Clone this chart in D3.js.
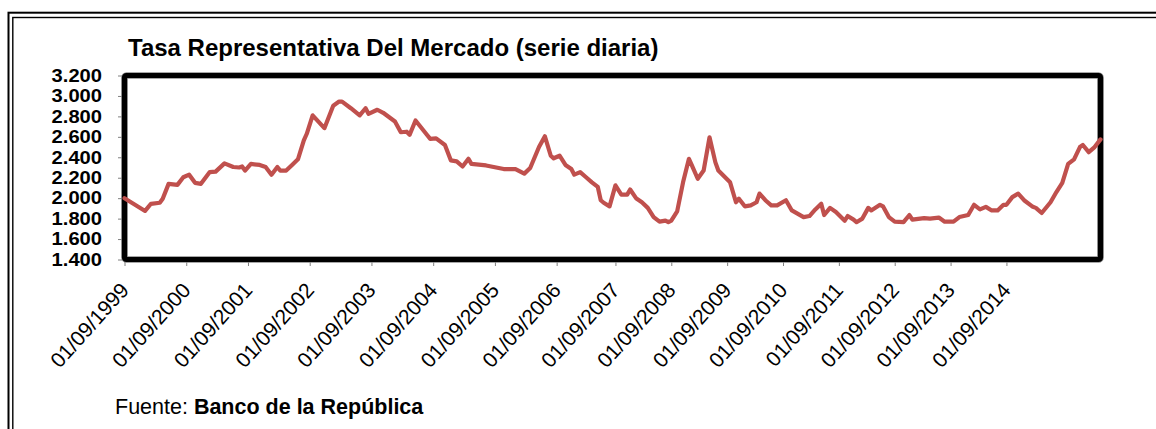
<!DOCTYPE html>
<html>
<head>
<meta charset="utf-8">
<script src="https://cdn.jsdelivr.net/npm/d3@7"></script>
<style>
  html, body { margin: 0; padding: 0; background: #fff; }
  svg { display: block; font-family: Arial, "Liberation Sans", sans-serif; }
</style>
</head>
<body>
<svg id="chart" width="1156" height="429"></svg>
<script>
// ---- Data ----
const chartTitle = "Tasa Representativa Del Mercado (serie diaria)";
const sourcePrefix = "Fuente: ";
const sourceName = "Banco de la República";

// observation index along the category axis (each label = one observation)
const obsIndex = [0,7,9,12,13,15,18,20,22,24,26,29,31,34,37,39,40,41,43,46,48,50,52,53,55,57,59,61,62,64,68,71,73,74,77,80,82,83,86,88,92,94,96,97,99,103,104,106,109,111,113,115,117,118,123,129,133,136,138,141,143,145,146,148,150,152,153,155,157,159,161,162,163,165,167,169,171,172,174,176,178,180,182,184,185,186,188,190,192,193,195,197,199,201,202,206,208,209,211,213,215,216,218,220,222,225,227,231,233,235,237,238,240,242,245,246,248,249,251,253,254,257,258,260,262,265,267,268,272,274,277,279,282,284,287,289,291,293,295,297,299,300,302,304,306,309,310,312,315,317,319,321,323,325,326,328,330,332];
// TRM in pesos per dollar
const trmValues = [2000,1875,1945,1955,1995,2140,2130,2205,2230,2150,2140,2255,2260,2340,2305,2300,2310,2270,2335,2325,2305,2230,2305,2270,2270,2325,2380,2565,2630,2810,2685,2905,2945,2945,2880,2810,2880,2825,2865,2835,2750,2645,2650,2620,2760,2615,2580,2585,2520,2370,2360,2310,2385,2335,2320,2285,2285,2240,2295,2500,2605,2415,2390,2415,2325,2285,2230,2255,2205,2155,2110,1980,1955,1920,2125,2035,2035,2085,2000,1960,1905,1815,1770,1780,1765,1780,1870,2155,2385,2320,2190,2270,2595,2350,2270,2155,1960,1995,1920,1930,1960,2045,1980,1930,1930,1980,1880,1815,1825,1890,1945,1835,1905,1865,1780,1825,1790,1765,1800,1905,1880,1935,1920,1815,1770,1765,1835,1790,1805,1800,1810,1770,1770,1815,1835,1935,1890,1915,1880,1880,1935,1935,2010,2045,1980,1915,1905,1855,1960,2060,2150,2335,2380,2500,2520,2450,2500,2575];
const lastIndex = 332;

const xTickIndex = [0,21,42,63,84,105,126,147,167,186,205,224,243,262,281,300];
const xTickLabels = ["01/09/1999","01/09/2000","01/09/2001","01/09/2002","01/09/2003","01/09/2004","01/09/2005","01/09/2006","01/09/2007","01/09/2008","01/09/2009","01/09/2010","01/09/2011","01/09/2012","01/09/2013","01/09/2014"];

const yMin = 1400, yMax = 3200;
const yTicks = [1400,1600,1800,2000,2200,2400,2600,2800,3000,3200];

// ---- Drawing ----
const svg = d3.select("#chart");
svg.append("rect").attr("width", 1156).attr("height", 429).attr("fill", "#fff");

// outer double frame (runs off the right and bottom edges)
svg.append("rect").attr("x", 8.5).attr("y", 12.7).attr("width", 1200).attr("height", 500)
  .attr("fill", "none").attr("stroke", "#000").attr("stroke-width", 2);
svg.append("rect").attr("x", 12.8).attr("y", 17.5).attr("width", 1200).attr("height", 500)
  .attr("fill", "none").attr("stroke", "#000").attr("stroke-width", 1.4);

const plot = { left: 124.5, right: 1100.5, top: 75.5, bottom: 259.5 };

const x = d3.scaleLinear().domain([0, lastIndex]).range([plot.left, plot.right]);
const y = d3.scaleLinear().domain([yMin, yMax]).range([plot.bottom, plot.top]);

const loc = d3.formatLocale({ decimal: ",", thousands: ".", grouping: [3], currency: ["$", ""] });
const fmt = loc.format(",d");

// title
svg.append("text").attr("x", 128).attr("y", 56)
  .attr("font-size", 24).attr("font-weight", "bold").attr("fill", "#000")
  .text(chartTitle);

// y axis
const yAxis = d3.axisLeft(y).tickValues(yTicks).tickFormat(fmt).tickSize(4).tickPadding(16);
const gy = svg.append("g").attr("transform", `translate(${plot.left - 2.5},0)`).call(yAxis);
gy.select(".domain").remove();
gy.selectAll(".tick line").attr("stroke", "#808080");
gy.selectAll(".tick text").attr("font-size", 18).attr("font-weight", "bold")
  .attr("font-family", "Arial, 'Liberation Sans', sans-serif").attr("fill", "#000")
  .each(function () {
    const w = this.getComputedTextLength();
    d3.select(this).attr("textLength", w * 1.12).attr("lengthAdjust", "spacingAndGlyphs");
  });

// x axis
const xAxis = d3.axisBottom(x).tickValues(xTickIndex).tickFormat((d, i) => xTickLabels[i]).tickSize(4).tickSizeOuter(0);
const gx = svg.append("g").attr("transform", `translate(0,${plot.bottom + 2.5})`).call(xAxis);
gx.select(".domain").remove();
gx.selectAll(".tick line").attr("stroke", "#808080");
gx.selectAll(".tick text")
  .attr("font-size", 21).attr("font-family", "Arial, 'Liberation Sans', sans-serif").attr("fill", "#000")
  .attr("text-anchor", "end").attr("y", 0).attr("dy", 0)
  .attr("transform", "translate(5,29) rotate(-48)");

// plot frame
const frame = svg.append("g");
frame.append("rect").attr("x", plot.left).attr("y", plot.top)
  .attr("width", plot.right - plot.left).attr("height", plot.bottom - plot.top)
  .attr("rx", 2).attr("fill", "none").attr("stroke", "#8a8a8a").attr("stroke-width", 6.6);
frame.append("rect").attr("x", plot.left).attr("y", plot.top)
  .attr("width", plot.right - plot.left).attr("height", plot.bottom - plot.top)
  .attr("rx", 2).attr("fill", "none").attr("stroke", "#000").attr("stroke-width", 5.2);

// series line
const series = obsIndex.map((d, i) => ({ i: d, v: trmValues[i] }));
const line = d3.line().x(d => x(d.i)).y(d => y(d.v));
svg.append("path").datum(series).attr("d", line)
  .attr("fill", "none").attr("stroke", "#C0504D").attr("stroke-width", 4.2)
  .attr("stroke-linejoin", "round").attr("stroke-linecap", "round");

// source note
const src = svg.append("text").attr("x", 115).attr("y", 414).attr("font-size", 21.5).attr("fill", "#000");
src.append("tspan").text(sourcePrefix);
src.append("tspan").attr("font-weight", "bold").text(sourceName);
</script>
</body>
</html>
